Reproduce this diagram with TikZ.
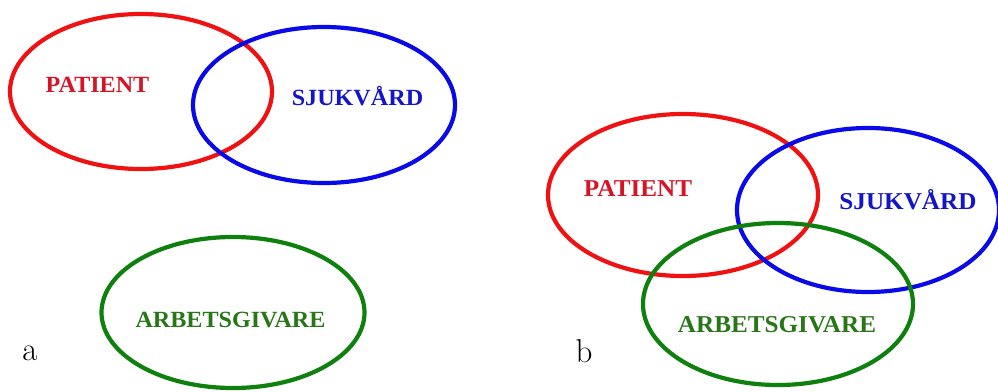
\documentclass[tikz,border=0pt]{standalone}
\usepackage{fontspec}
\setmainfont{Latin Modern Roman}
\newfontfamily\timesb{Liberation Serif}[BoldFont={Liberation Serif Bold}]
\usetikzlibrary{shapes.geometric}
\definecolor{cred}{RGB}{238,18,18}
\definecolor{cblue}{RGB}{10,10,232}
\definecolor{cgreen}{RGB}{14,128,14}
\definecolor{tred}{RGB}{214,20,40}
\definecolor{tblue}{RGB}{20,20,200}
\definecolor{tgreen}{RGB}{40,118,24}
\tikzset{
  ring/.style={draw, ellipse, line width=4.2pt, inner sep=0pt, outer sep=0pt},
  lbla/.style={anchor=base, inner sep=0pt, xscale=1.04, font=\timesb\bfseries\fontsize{23.2}{27}\selectfont},
  lblb/.style={anchor=base, inner sep=0pt, xscale=1.04, font=\timesb\bfseries\fontsize{24.2}{28}\selectfont},
  panel/.style={anchor=base, inner sep=0pt, font=\fontsize{33}{38}\selectfont}
}
\begin{document}
\begin{tikzpicture}[x=1pt,y=-1pt]
\useasboundingbox (0,0) rectangle (998,391);
% panel a
\node[ring, draw=cred, minimum width=262pt, minimum height=155pt] (pa) at (141,91.5) {};
\node[ring, draw=cblue, minimum width=262pt, minimum height=156pt] (sa) at (324,105) {};
\node[ring, draw=cgreen, minimum width=263pt, minimum height=151pt] (ga) at (233,312.5) {};
\node[lbla, text=tred] (tpa) at (97.5,92) {PATIENT};
\node[lbla, text=tblue] (tsa) at (357.5,105.5) {SJUKVÅRD};
\node[lbla, text=tgreen] (tga) at (230.5,327) {ARBETSGIVARE};
\node[panel] (la) at (30,360) {a};
% panel b
\node[ring, draw=cred, minimum width=270pt, minimum height=162pt] (pb) at (683,195) {};
\node[ring, draw=cblue, minimum width=262pt, minimum height=164pt] (sb) at (868,210) {};
\node[ring, draw=cgreen, minimum width=270pt, minimum height=162pt] (gb) at (778,304) {};
\node[lblb, text=tred] (tpb) at (638,196) {PATIENT};
\node[lblb, text=tblue] (tsb) at (908,209) {SJUKVÅRD};
\node[lblb, text=tgreen] (tgb) at (777,332) {ARBETSGIVARE};
\node[panel] (lb) at (584,362) {b};
\end{tikzpicture}
\end{document}
